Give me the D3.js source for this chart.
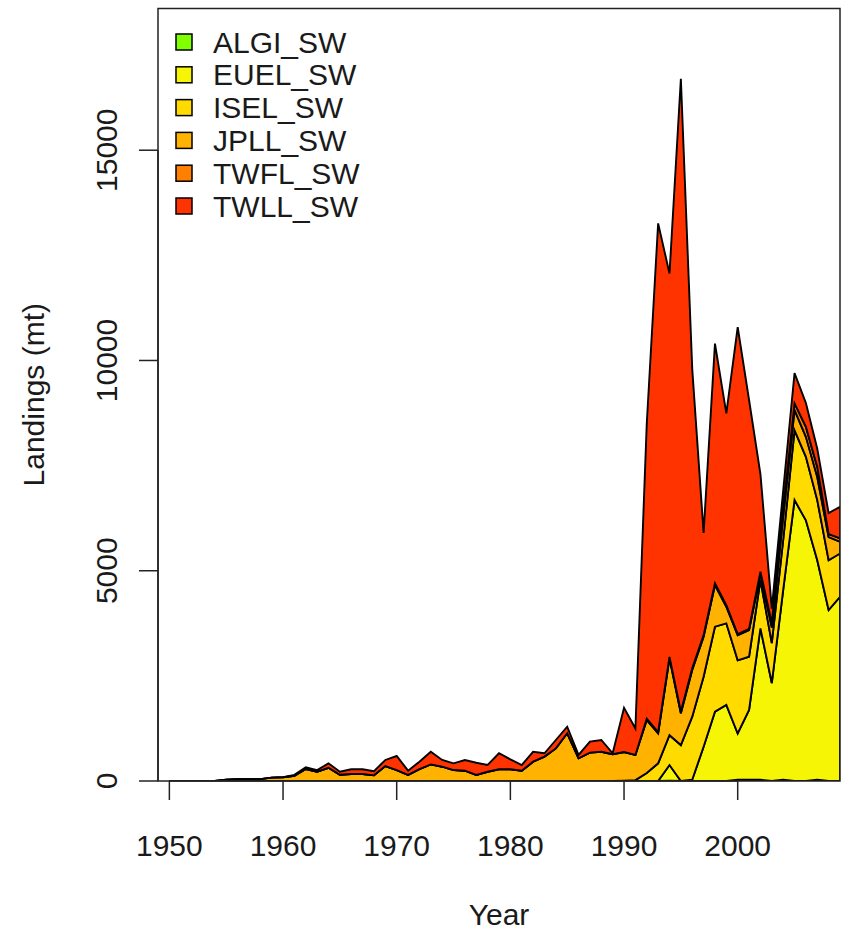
<!DOCTYPE html>
<meta charset="utf-8">
<style type="text/css">
body { margin: 0; background: #fff; }
svg { font-family: "Liberation Sans", Arial, Helvetica, sans-serif; }
.layer { stroke: #000; stroke-width: 1.9px; stroke-linejoin: miter; }
.axis line, .frame { stroke: #222; stroke-width: 1.5px; fill: none; }
text { fill: #1a1a1a; font-size: 30px; }
</style>
<body>
<script src="https://d3js.org/d3.v7.min.js"></script>
<script>
// years and landings (mt) by fleet
let years = [1950,1951,1952,1953,1954,1955,1956,1957,1958,1959,
             1960,1961,1962,1963,1964,1965,1966,1967,1968,1969,
             1970,1971,1972,1973,1974,1975,1976,1977,1978,1979,
             1980,1981,1982,1983,1984,1985,1986,1987,1988,1989,
             1990,1991,1992,1993,1994,1995,1996,1997,1998,1999,
             2000,2001,2002,2003,2004,2005,2006,2007,2008,2009];

let ALGI_SW = [0,0,0,0,0,0,0,0,0,0, 0,0,0,0,0,0,0,0,0,0,
               0,0,0,0,0,0,0,0,0,0, 0,0,0,0,0,0,0,0,0,0,
               10,10,0,0,10,0,0,0,0,0, 30,30,30,0,30,0,0,30,0,0];
let EUEL_SW = [0,0,0,0,0,0,0,0,0,0, 0,0,0,0,0,0,0,0,0,0,
               0,0,0,0,0,0,0,0,0,0, 0,0,0,0,0,0,0,0,0,0,
               0,0,0,0,370,0,30,815,1650,1810, 1100,1660,3600,2330,4510,6680,6200,5220,4065,4380];
let ISEL_SW = [0,0,0,0,0,0,0,0,0,0, 0,0,0,0,0,0,0,0,0,0,
               0,0,0,0,0,0,0,0,0,0, 0,0,0,0,0,0,0,0,0,0,
               0,10,190,420,710,855,1500,1665,2020,1940, 1740,1265,1150,950,1190,1660,1510,1430,1185,1030];
let JPLL_SW = [0,0,0,0,0,30,40,40,45,80, 90,120,285,220,315,150,165,165,135,355,
               260,145,280,395,340,260,245,145,220,280, 280,245,460,580,775,1135,540,675,695,635,
               680,600,1260,715,1825,755,1110,950,990,395, 595,635,155,370,550,480,475,550,550,280];
let TWFL_SW = [0,0,0,0,0,0,0,0,0,0, 0,0,0,0,0,0,0,0,0,0,
               0,0,0,0,0,0,0,0,0,0, 0,0,0,0,0,0,0,0,0,0,
               0,0,30,25,35,40,40,40,40,35, 30,30,45,100,170,160,235,240,70,80];
let TWLL_SW = [0,0,0,0,0,0,0,0,0,0, 0,25,40,40,105,70,115,115,100,145,
               335,100,180,300,160,160,255,290,160,380, 235,135,235,80,200,155,80,260,280,25,
               1050,630,7020,12100,9120,15050,7120,2430,5700,4560, 7300,5440,2320,350,450,720,570,430,500,750];

let fleets = ["ALGI_SW", "EUEL_SW", "ISEL_SW", "JPLL_SW", "TWFL_SW", "TWLL_SW"];
let fleetColors = ["#80FF00", "#F5F505", "#FFDB00", "#FFB300", "#FF7F00", "#FF3300"];
let xTicks = [1950, 1960, 1970, 1980, 1990, 2000];
let yTicks = [0, 5000, 10000, 15000];

let series = [ALGI_SW, EUEL_SW, ISEL_SW, JPLL_SW, TWFL_SW, TWLL_SW];
let table = years.map(function(yr, i) {
    let row = {year: yr};
    fleets.forEach(function(f, k) { row[f] = series[k][i]; });
    return row;
});

let W = 843, H = 934;
let pLeft = 158, pRight = 840, pTop = 8.5, pBottom = 781;

let svg = d3.select("body").append("svg")
    .attr("width", W)
    .attr("height", H);

let x = d3.scaleLinear().domain([1949, 2009]).range([pLeft, pRight]);
let y = d3.scaleLinear().domain([0, 18370]).range([pBottom, pTop]);

let stacked = d3.stack().keys(fleets)(table);

let area = d3.area()
    .x(function(d) { return x(d.data.year); })
    .y0(function(d) { return y(d[0]); })
    .y1(function(d) { return y(d[1]); });

svg.append("clipPath").attr("id", "plotclip")
  .append("rect")
    .attr("x", pLeft).attr("y", pTop)
    .attr("width", pRight - pLeft).attr("height", pBottom - pTop);

svg.append("g").attr("clip-path", "url(#plotclip)")
  .selectAll("path")
  .data(stacked)
  .enter().append("path")
    .attr("class", "layer")
    .attr("fill", function(d, i) { return fleetColors[i]; })
    .attr("d", area);

// frame
svg.append("rect").attr("class", "frame")
    .attr("x", pLeft).attr("y", pTop)
    .attr("width", pRight - pLeft).attr("height", pBottom - pTop);

// x axis, R style
let gx = svg.append("g").attr("class", "axis");
gx.append("line")
    .attr("x1", x(xTicks[0])).attr("x2", x(xTicks[xTicks.length - 1]))
    .attr("y1", pBottom).attr("y2", pBottom);
gx.selectAll(".tick").data(xTicks).enter().append("line")
    .attr("x1", function(d) { return x(d); }).attr("x2", function(d) { return x(d); })
    .attr("y1", pBottom).attr("y2", pBottom + 19);
gx.selectAll("text").data(xTicks).enter().append("text")
    .attr("x", function(d) { return x(d); })
    .attr("y", 856)
    .attr("text-anchor", "middle")
    .text(function(d) { return d; });

// y axis
let gy = svg.append("g").attr("class", "axis");
gy.append("line")
    .attr("x1", pLeft).attr("x2", pLeft)
    .attr("y1", y(yTicks[0])).attr("y2", y(yTicks[yTicks.length - 1]));
gy.selectAll(".tick").data(yTicks).enter().append("line")
    .attr("x1", pLeft - 19).attr("x2", pLeft)
    .attr("y1", function(d) { return y(d); }).attr("y2", function(d) { return y(d); });
gy.selectAll("text").data(yTicks).enter().append("text")
    .attr("transform", function(d) { return "translate(117," + y(d) + ") rotate(-90)"; })
    .attr("text-anchor", "middle")
    .text(function(d) { return d; });

// axis titles
svg.append("text")
    .attr("x", (pLeft + pRight) / 2).attr("y", 925)
    .attr("text-anchor", "middle")
    .text("Year");
svg.append("text")
    .attr("transform", "translate(44," + (pTop + pBottom) / 2 + ") rotate(-90)")
    .attr("text-anchor", "middle")
    .text("Landings (mt)");

// legend
let legend = svg.append("g").selectAll("g")
    .data(fleets)
    .enter().append("g")
    .attr("transform", function(d, i) { return "translate(0," + (42 + i * 32.8) + ")"; });
legend.append("rect")
    .attr("x", 176).attr("y", -8)
    .attr("width", 16).attr("height", 16)
    .attr("fill", function(d, i) { return fleetColors[i]; })
    .attr("stroke", "#000").attr("stroke-width", 1.5);
legend.append("text")
    .attr("x", 213).attr("y", 10.5)
    .text(function(d) { return d; });
</script>
</body>
</html>
